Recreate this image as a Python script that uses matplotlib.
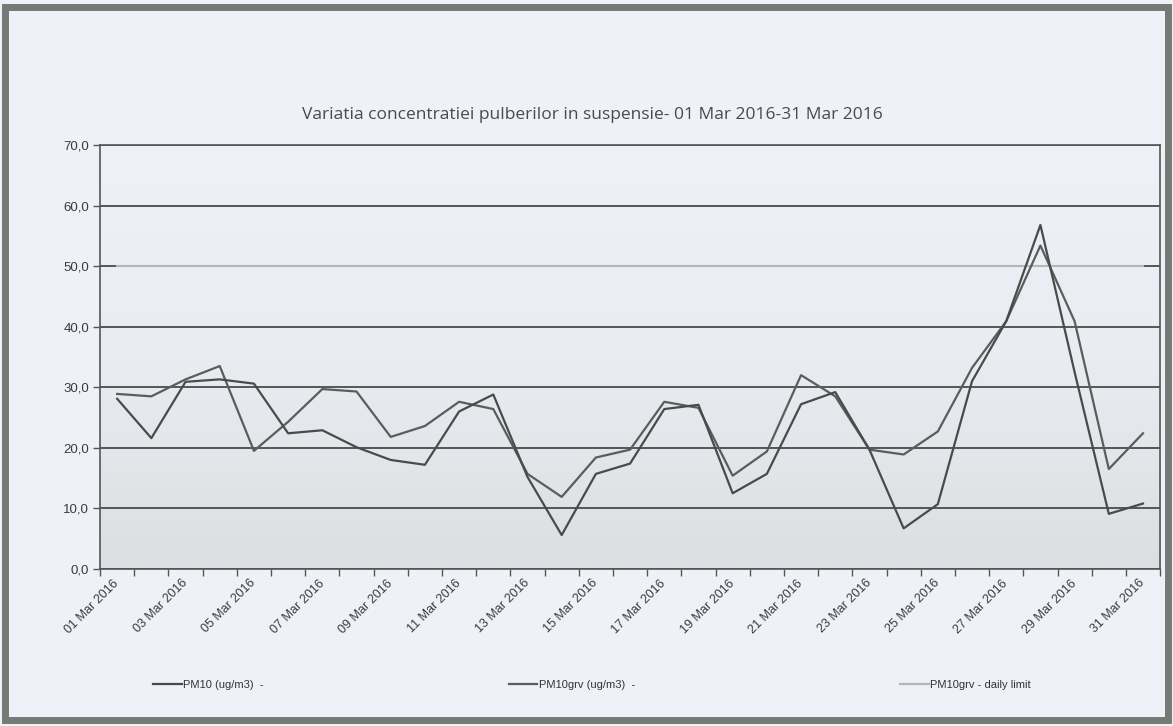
import numpy as np
import matplotlib.pyplot as plt
from matplotlib.lines import Line2D
from matplotlib.patches import Rectangle
from matplotlib.ticker import FuncFormatter

# daily values, 01..31 Mar 2016
days = list(range(1, 32))
day_labels = [f"{d:02d} Mar 2016" for d in days]

pm10 = [28.1, 21.6, 30.9, 31.3, 30.6, 22.4, 22.9, 20.1, 18.0, 17.2,
        26.0, 28.8, 15.2, 5.6, 15.7, 17.4, 26.4, 27.1, 12.5, 15.7,
        27.2, 29.2, 19.7, 6.7, 10.7, 31.0, 40.9, 56.8, 32.5, 9.1, 10.8]
pm10grv = [28.9, 28.5, 31.3, 33.5, 19.5, 24.3, 29.7, 29.3, 21.8, 23.6,
           27.6, 26.4, 15.7, 11.9, 18.4, 19.7, 27.6, 26.6, 15.4, 19.4,
           32.0, 28.5, 19.7, 18.9, 22.7, 33.2, 40.9, 53.4, 40.9, 16.5, 22.4]
daily_limit = [50.0] * 31

y_ticks = [0, 10, 20, 30, 40, 50, 60, 70]
legend_labels = ["PM10 (ug/m3)  -", "PM10grv (ug/m3)  -", "PM10grv - daily limit"]

c_pm10 = '#4a4a4a'
c_grv = '#5c5c5c'
c_limit = '#b4b6b8'

fig = plt.figure(figsize=(11.73, 7.26), dpi=100, facecolor='#eef2f8')
ax = fig.add_axes([0.0853, 0.2163, 0.9037, 0.584])

# plot area: light at top, greyer towards the bottom
grad = np.linspace(0, 1, 256).reshape(-1, 1)
ax.imshow(grad, extent=[0.5, 31.5, 0, 70], aspect='auto', origin='upper',
          cmap=plt.matplotlib.colors.LinearSegmentedColormap.from_list(
              'bg', ['#eef1f7', '#e9ecf1', '#dcdee1']), zorder=0)

for v in y_ticks:
    ax.axhline(v, color='#555555', lw=1.4, zorder=1)

ax.plot(days, daily_limit, color=c_limit, lw=1.5, zorder=2)
ax.plot(days, pm10grv, color=c_grv, lw=1.6, zorder=3)
ax.plot(days, pm10, color=c_pm10, lw=1.6, zorder=4)

ax.set_xlim(0.5, 31.5)
ax.set_ylim(0, 70)

ax.set_yticks(y_ticks)
ax.yaxis.set_major_formatter(FuncFormatter(lambda v, p: f"{v:.1f}".replace('.', ',')))
ax.tick_params(axis='y', length=5, width=1, color='#555555', labelsize=9.5,
               labelcolor='#3a3a3a', pad=3)
for lab in ax.get_yticklabels():
    lab.set_family('Liberation Sans')

ax.set_xticks(days[::2])
ax.set_xticklabels(day_labels[::2], rotation=45, ha='right', va='center',
                   rotation_mode='anchor', fontsize=9, color='#3a3a3a',
                   family='Liberation Sans')
ax.set_xticks(np.arange(0.5, 32, 1), minor=True)
ax.tick_params(axis='x', which='major', length=0, pad=9)
ax.tick_params(axis='x', which='minor', length=5, width=1, color='#555555')

for s in ax.spines.values():
    s.set_color('#555555')
    s.set_linewidth(1.2)

fig.text(0.505, 1 - 115 / 726,
         "Variatia concentratiei pulberilor in suspensie- 01 Mar 2016-31 Mar 2016",
         ha='center', va='center', fontsize=12.5, color='#4a4a4a', family='Open Sans')

# legend entries spread along the bottom
colors = [c_pm10, c_grv, c_limit]
xpos = [0.122, 0.425, 0.759]
for lbl, col, xp in zip(legend_labels, colors, xpos):
    h = Line2D([], [], color=col, lw=1.6)
    fig.legend([h], [lbl], loc='center left', bbox_to_anchor=(xp, 1 - 685 / 726),
               frameon=False, handlelength=2.6, handletextpad=0.1,
               prop={'family': 'Liberation Sans', 'size': 8}, labelcolor='#333333')

fig.patches.append(Rectangle((0.004, 0.008), 0.992, 0.982, transform=fig.transFigure,
                             fill=False, lw=5, ec='#767a76'))

fig.savefig('out.png', dpi=100, facecolor=fig.get_facecolor())
